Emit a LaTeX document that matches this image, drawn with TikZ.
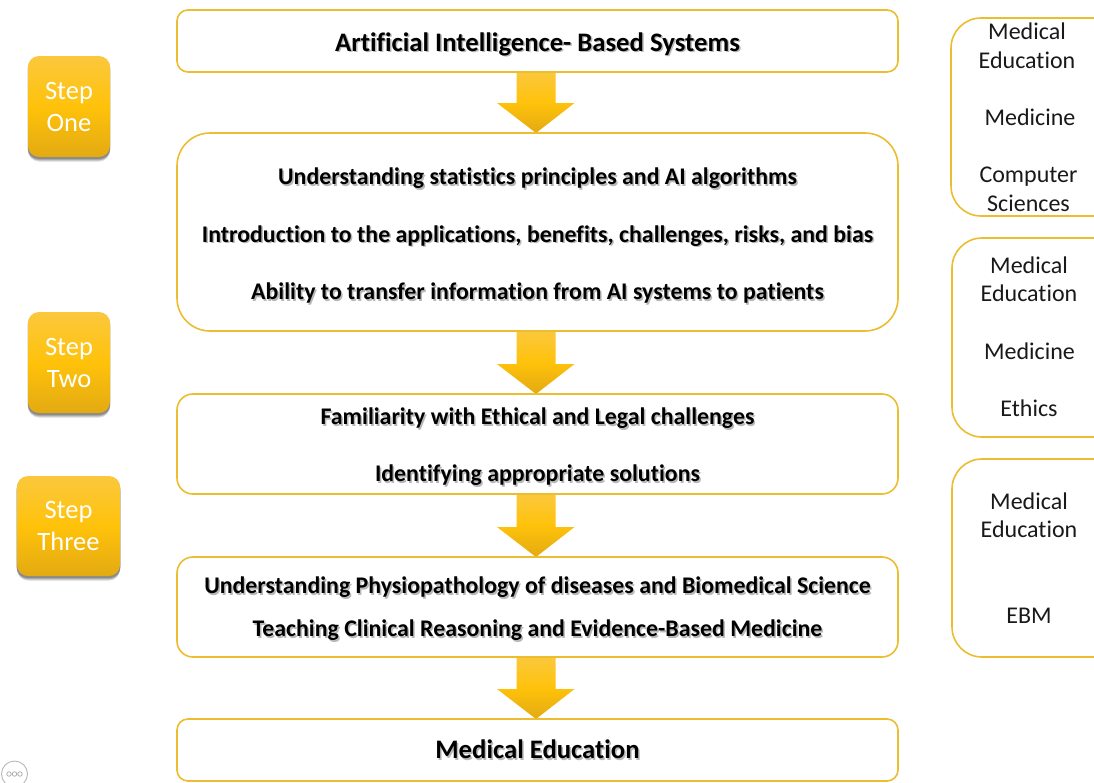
\documentclass[tikz,border=0pt]{standalone}
\usepackage{fontspec}
\setmainfont{Carlito}[Ligatures=NoCommon]
\usetikzlibrary{calc,shadows,backgrounds}
\definecolor{boxline}{HTML}{EBBD2F}
\definecolor{goldtop}{HTML}{FBC83D}
\definecolor{goldmid}{HTML}{FFC20A}
\definecolor{goldlow}{HTML}{E3AA12}
\newcommand{\txdrop}{8.3pt}
\newcommand{\shtxt}[1]{\leavevmode\smash{\raisebox{-\txdrop}{\rlap{\raisebox{-1.6pt}{\hspace{1.5pt}\textcolor{black!28}{#1}}}#1}}}
\newcommand{\blockarrow}[2]{%
  \begin{scope}[on background layer]
  \path[arrowfill] let \p1=(#1.south), \p2=(#2.north) in
    (\x1-21pt,\y1) -- (\x1+18pt,\y1) -- (\x1+18pt,\y2+30pt) -- (\x1+37pt,\y2+30pt)
    -- (\x1-1.5pt,\y2) -- (\x1-40.5pt,\y2+30pt) -- (\x1-21pt,\y2+30pt) -- cycle;
  \end{scope}}
\tikzset{
  x=1pt,y=-1pt,
  drop/.style={execute at begin node={\renewcommand{\txdrop}{#1}}},
  mainbox/.style={draw=boxline,line width=1.6pt,minimum width=721pt,outer sep=0pt,inner sep=0pt,align=center},
  sidebox/.style={draw=boxline,line width=1.6pt,rounded corners=30pt},
  headtext/.style={font=\fontsize{26.7}{30}\selectfont\bfseries},
  bodytext/.style={font=\fontsize{23.85}{#1}\selectfont\bfseries},
  sidetext/.style={text=black!90,align=center,inner sep=0pt,font=\fontsize{24}{28.5}\selectfont},
  stepbadge/.style={rounded corners=11pt,top color=goldtop,bottom color=goldlow,middle color=goldmid,
    drop shadow={shadow xshift=0pt,shadow yshift=-1.5pt,shadow scale=1.01,opacity=.2,fill=black},
    drop shadow={shadow xshift=0pt,shadow yshift=-3pt,shadow scale=1.005,opacity=.2,fill=black},
    drop shadow={shadow xshift=0pt,shadow yshift=-4.5pt,shadow scale=1.0,opacity=.15,fill=black},
    text=white,align=center,inner sep=0pt,font=\fontsize{26.5}{32}\selectfont},
  arrowfill/.style={top color=goldtop,bottom color=goldlow,middle color=goldmid},
  morering/.style={draw=black!28,line width=.9pt,circle,minimum size=26pt,inner sep=0pt},
  moredot/.style={draw=black!35,line width=.7pt,circle,minimum size=4.5pt,inner sep=0pt},
}
\begin{document}
\begin{tikzpicture}
\useasboundingbox (0,0) rectangle (1094,782);
\clip (0,0) rectangle (1094,782);

\node[mainbox,headtext,drop=10.2pt,rounded corners=11pt,minimum height=62pt] (ai) at (537.5,41) {\shtxt{Artificial Intelligence- Based Systems}};
\node[mainbox,bodytext=57.5,drop=10pt,rounded corners=33pt,minimum height=198pt] (understand) at (537.5,232)
  {\shtxt{Understanding statistics principles and AI algorithms}\\
   \shtxt{Introduction to the applications, benefits, challenges, risks, and bias}\\
   \shtxt{Ability to transfer information from AI systems to patients}};
\node[mainbox,bodytext=57.5,drop=9.2pt,rounded corners=16pt,minimum height=100pt] (ethics) at (537.5,444)
  {\shtxt{Familiarity with Ethical and Legal challenges}\\
   \shtxt{Identifying appropriate solutions}};
\node[mainbox,bodytext=43,drop=8.3pt,rounded corners=16pt,minimum height=100pt] (clinical) at (537.5,607)
  {\shtxt{Understanding Physiopathology of diseases and Biomedical Science}\\
   \shtxt{Teaching Clinical Reasoning and Evidence-Based Medicine}};
\node[mainbox,headtext,drop=8.6pt,rounded corners=11pt,minimum height=62pt] (meded) at (537.5,750) {\shtxt{Medical Education}};

\begin{scope}[on background layer]
\fill[white] (0,0) rectangle (1094,782);
\end{scope}
\blockarrow{ai}{understand}
\blockarrow{understand}{ethics}
\blockarrow{ethics}{clinical}
\blockarrow{clinical}{meded}

\draw[sidebox] (951,18) rectangle (1125,216);
\draw[sidebox] (952,238) rectangle (1125,437);
\draw[sidebox] (952,459) rectangle (1125,657);

\node[sidetext] (s1a) at (1027,46) {Medical\\Education};
\node[sidetext] (s1b) at (1030,117) {Medicine};
\node[sidetext] (s1c) at (1028.5,189.5) {Computer\\Sciences};
\node[sidetext] (s2a) at (1029,279) {Medical\\Education};
\node[sidetext] (s2b) at (1029.5,351) {Medicine};
\node[sidetext] (s2c) at (1029,408) {Ethics};
\node[sidetext] (s3a) at (1029,515) {Medical\\Education};
\node[sidetext] (s3b) at (1029,616) {EBM};

\node[stepbadge,minimum width=82pt,minimum height=101pt] (st1) at (69,106.5) {\raisebox{-.8pt}{Step}\\\raisebox{-.8pt}{One}};
\node[stepbadge,minimum width=82pt,minimum height=101pt] (st2) at (69,362.5) {\raisebox{-.8pt}{Step}\\\raisebox{-.8pt}{Two}};
\node[stepbadge,minimum width=103pt,minimum height=100pt] (st3) at (68.5,526) {\raisebox{-.8pt}{Step}\\\raisebox{-.8pt}{Three}};

\node[morering] (more) at (14.5,774) {};
\node[moredot] (d1) at (9,774) {};
\node[moredot] (d2) at (14.5,774) {};
\node[moredot] (d3) at (20,774) {};
\end{tikzpicture}
\end{document}
